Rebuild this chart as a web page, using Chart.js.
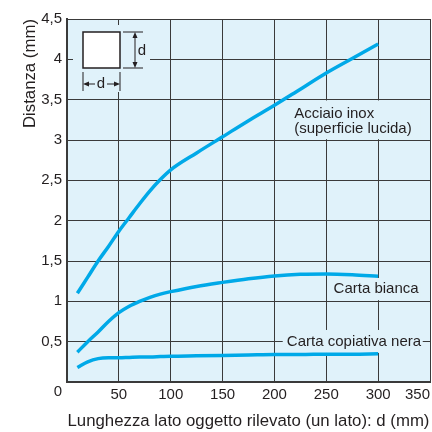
<!DOCTYPE html>
<html lang="it">
<head>
<meta charset="UTF-8">
<title>Distanza di rilevamento</title>
<script src="https://cdn.jsdelivr.net/npm/chart.js@4.4.2/dist/chart.umd.min.js"></script>
<style>
  html, body { margin: 0; padding: 0; background: #fff; }
  #wrap { width: 432px; height: 432px; }
</style>
</head>
<body>
<div id="wrap"><canvas id="grafico" width="432" height="432"></canvas></div>
<script>
  // lato dell'oggetto (mm) e distanza di rilevamento (mm)
  const lato = [10, 20, 30, 40, 50, 60, 70, 80, 90, 100, 125, 150, 175, 200, 225, 250, 275, 300];
  const acciaioInox = [1.10, 1.30, 1.50, 1.68, 1.87, 2.04, 2.21, 2.37, 2.51, 2.63, 2.84, 3.04, 3.24, 3.43, 3.63, 3.83, 4.01, 4.19];
  const cartaBianca = [0.37, 0.50, 0.62, 0.75, 0.86, 0.94, 1.00, 1.05, 1.09, 1.12, 1.185, 1.235, 1.28, 1.315, 1.335, 1.34, 1.33, 1.31];
  const cartaNera = [0.18, 0.25, 0.29, 0.30, 0.30, 0.305, 0.31, 0.31, 0.315, 0.32, 0.325, 0.33, 0.335, 0.34, 0.34, 0.345, 0.345, 0.35];
  const xTicks = [0, 50, 100, 150, 200, 250, 300, 350];
  const yTicks = [0, 0.5, 1, 1.5, 2, 2.5, 3, 3.5, 4, 4.5];

  const CIANO = '#00a9e8';
  const SFONDO = '#e0f2fa';
  const GRIGLIA = '#3a3a3a';
  const TESTO = '#231f20';
  const FONT = "'Liberation Sans', Arial, Helvetica, sans-serif";

  const punti = arr => lato.map((x, i) => ({ x: x, y: arr[i] }));
  const virgola = v => String(v).replace('.', ',');

  // etichette nel grafico: testo, posizione in unità dei dati, riquadro di sfondo
  const etichette = [
    { righe: ['Acciaio inox', '(superficie lucida)'], x: 219, y: 3.23, box: [214, 3.49, 341, 3.01] },
    { righe: ['Carta bianca'], x: 257, y: 1.155, box: [253, 1.29, 341, 1.015] },
    { righe: ['Carta copiativa nera'], x: 212, y: 0.497, box: [208, 0.645, 343, 0.36] }
  ];

  const decorazioni = {
    id: 'decorazioni',
    beforeDraw(chart) {
      const { ctx, chartArea: a } = chart;
      ctx.save();
      ctx.fillStyle = SFONDO;
      ctx.fillRect(a.left, a.top, a.right - a.left, a.bottom - a.top);
      ctx.restore();
    },
    beforeDatasetsDraw(chart) {
      const { ctx, chartArea: a, scales: { x, y } } = chart;
      ctx.save();
      ctx.fillStyle = SFONDO;
      // riquadri che nascondono la griglia sotto i testi
      etichette.forEach(e => {
        const x0 = x.getPixelForValue(e.box[0]), y0 = y.getPixelForValue(e.box[1]);
        const x1 = x.getPixelForValue(e.box[2]), y1 = y.getPixelForValue(e.box[3]);
        ctx.fillRect(x0, y0, x1 - x0, y1 - y0);
      });
      ctx.fillRect(a.left + 6, a.top + 6, 77, 67);

      // schema dell'oggetto quadrato
      const L = a.left, T = a.top;
      ctx.fillStyle = '#fff';
      ctx.strokeStyle = TESTO;
      ctx.lineWidth = 1.5;
      ctx.fillRect(L + 16, T + 13, 37, 36);
      ctx.strokeRect(L + 16, T + 13, 37, 36);

      ctx.lineWidth = 1;
      ctx.beginPath();
      // quota verticale
      ctx.moveTo(L + 56, T + 13); ctx.lineTo(L + 76, T + 13);
      ctx.moveTo(L + 56, T + 49); ctx.lineTo(L + 76, T + 49);
      ctx.moveTo(L + 68, T + 18); ctx.lineTo(L + 68, T + 44);
      // quota orizzontale
      ctx.moveTo(L + 16, T + 53); ctx.lineTo(L + 16, T + 72);
      ctx.moveTo(L + 53, T + 53); ctx.lineTo(L + 53, T + 72);
      ctx.moveTo(L + 21, T + 65); ctx.lineTo(L + 28, T + 65);
      ctx.moveTo(L + 40, T + 65); ctx.lineTo(L + 48, T + 65);
      ctx.stroke();

      ctx.fillStyle = TESTO;
      const freccia = (px, py, dx, dy) => {
        ctx.beginPath();
        ctx.moveTo(px, py);
        ctx.lineTo(px - dx * 6 - dy * 2.5, py - dy * 6 - dx * 2.5);
        ctx.lineTo(px - dx * 6 + dy * 2.5, py - dy * 6 + dx * 2.5);
        ctx.closePath();
        ctx.fill();
      };
      freccia(L + 68, T + 13, 0, -1);
      freccia(L + 68, T + 49, 0, 1);
      freccia(L + 16, T + 65, -1, 0);
      freccia(L + 53, T + 65, 1, 0);

      ctx.font = '15px ' + FONT;
      ctx.textBaseline = 'middle';
      ctx.textAlign = 'center';
      ctx.fillText('d', L + 75, T + 32);
      ctx.fillText('d', L + 34, T + 65);

      // testi delle curve
      ctx.textAlign = 'left';
      etichette.forEach(e => {
        const px = x.getPixelForValue(e.x);
        const py = y.getPixelForValue(e.y);
        e.righe.forEach((r, i) => ctx.fillText(r, px, py + i * 15 - (e.righe.length - 1) * 7.5));
      });
      ctx.restore();
    },
    afterDraw(chart) {
      const { ctx, scales: { x, y } } = chart;
      ctx.save();
      ctx.font = '15px ' + FONT;
      ctx.fillStyle = TESTO;
      ctx.textAlign = 'center';
      ctx.textBaseline = 'middle';
      ctx.fillText('0', x.getPixelForValue(0) - 9, y.getPixelForValue(0) + 10);
      ctx.restore();
    }
  };

  const stileCurva = {
    borderColor: CIANO,
    borderWidth: 3.5,
    pointRadius: 0,
    cubicInterpolationMode: 'monotone',
    fill: false
  };

  new Chart(document.getElementById('grafico'), {
    type: 'line',
    data: {
      datasets: [
        Object.assign({ label: 'Acciaio inox (superficie lucida)', data: punti(acciaioInox) }, stileCurva),
        Object.assign({ label: 'Carta bianca', data: punti(cartaBianca) }, stileCurva),
        Object.assign({ label: 'Carta copiativa nera', data: punti(cartaNera) }, stileCurva)
      ]
    },
    options: {
      responsive: false,
      animation: false,
      devicePixelRatio: 1,
      layout: { padding: { top: 19, right: 2, left: 0, bottom: 0 } },
      plugins: { legend: { display: false }, tooltip: { enabled: false } },
      scales: {
        x: {
          type: 'linear',
          min: 0, max: 350,
          afterFit: s => { s.height = 50; s.paddingLeft = 0; s.paddingRight = 0; },
          afterBuildTicks: s => { s.ticks = xTicks.map(v => ({ value: v })); },
          grid: { color: GRIGLIA, lineWidth: 1, drawTicks: false },
          border: { color: GRIGLIA, width: 2 },
          ticks: {
            padding: 4,
            align: 'inner',
            color: TESTO,
            font: { family: FONT, size: 15 },
            callback: v => v === 0 ? '' : String(v)
          },
          title: {
            display: true,
            text: 'Lunghezza lato oggetto rilevato (un lato): d (mm)',
            color: TESTO,
            font: { family: FONT, size: 16.8 },
            padding: { top: 0, bottom: 1 }
          }
        },
        y: {
          min: 0, max: 4.5,
          afterFit: s => { s.width = 67; s.paddingTop = 0; s.paddingBottom = 0; },
          afterBuildTicks: s => { s.ticks = yTicks.map(v => ({ value: v })); },
          grid: { color: GRIGLIA, lineWidth: 1, drawTicks: false },
          border: { color: GRIGLIA, width: 2 },
          ticks: {
            padding: 5,
            color: TESTO,
            font: { family: FONT, size: 15 },
            callback: v => v === 0 ? '' : virgola(v)
          },
          title: {
            display: true,
            text: 'Distanza (mm)',
            align: 'end',
            color: TESTO,
            font: { family: FONT, size: 16.8 },
            padding: { top: 20, bottom: 0 }
          }
        }
      }
    },
    plugins: [decorazioni]
  });
</script>
</body>
</html>
